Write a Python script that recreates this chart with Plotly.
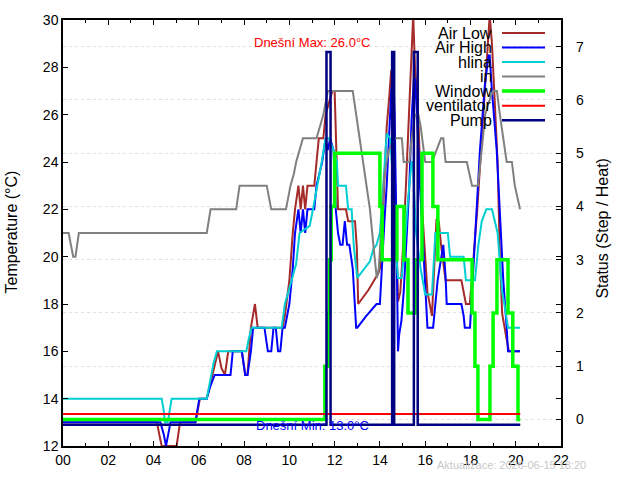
import plotly.graph_objects as go

# ---------------- data (hours, values) ----------------
air_low_t = [0, 4.15, 4.25, 4.36, 5.02, 5.1, 5.17, 5.85, 5.95, 6.05, 6.35, 6.6, 6.85, 7.0, 7.15, 7.3, 7.45, 7.9, 8.05, 8.15, 8.3, 8.48, 8.6,
             9.7, 9.8, 10.0, 10.15, 10.25, 10.4, 10.5, 10.6, 10.7, 10.8, 11.1, 11.2, 11.3, 11.5, 11.6, 11.75, 11.9, 12.0, 12.1, 12.15,
             12.5, 12.6, 12.9, 12.98, 13.04, 13.5, 13.93, 14.0, 14.1, 14.2, 14.3, 14.4, 14.5, 14.6, 14.7, 14.8, 14.9, 15.0, 15.15, 15.3,
             15.4, 15.47, 15.55, 15.7, 15.8, 15.95, 16.1, 16.3, 16.4, 16.5, 16.6, 16.7, 16.9, 17.6, 17.8, 17.97, 18.1, 18.3, 18.5, 18.7,
             18.85, 18.95, 19.1, 19.2, 19.3, 19.4, 19.6, 19.7, 20.19]
air_low_v = [13, 13, 12.5, 12, 12, 12.5, 13, 13, 13.5, 14, 14, 15, 16, 15.3, 15, 16, 16, 16, 15, 15, 17, 18, 17,
             17, 17.5, 19, 21, 22, 23, 22, 23, 22, 23, 23, 24, 25, 25, 26, 26.5, 27, 27, 23.5, 22,
             22, 21.5, 21.5, 20.4, 18, 18.6, 19.3, 19.5, 21, 23, 25.5, 26.6, 27.9, 26, 22, 18.1, 18.5, 20, 23, 26.5,
             29.3, 30.2, 28, 25.8, 23, 20.5, 18.5, 17.5, 19.5, 21.6, 21.5, 20.5, 19, 19, 18, 18, 19.5, 22, 25, 28,
             30.2, 29, 26, 24, 20, 17.6, 16.5, 16, 16]

air_high_t = [0, 4.3, 4.45, 4.55, 4.65, 4.75, 5.85, 5.95, 6.02, 6.35, 6.5, 6.7, 7.4, 7.5, 7.9, 8.05, 8.15, 8.3, 8.4, 8.9, 9.05, 9.2,
              9.3, 9.4, 9.5, 9.6, 9.7, 9.8, 10.0, 10.15, 10.25, 10.4, 10.5, 10.6, 10.7, 10.8, 11.1, 11.2, 11.45, 11.6, 11.7, 11.8,
              11.95, 12.05, 12.15, 12.25, 12.35, 12.45, 12.55, 12.65, 12.8, 12.95, 13.0, 13.4, 13.85, 14.0, 14.05, 14.12, 14.2, 14.3,
              14.4, 14.5, 14.59, 14.65, 14.7, 14.74, 14.78, 14.8, 14.85, 14.95, 15.05, 15.15, 15.3, 15.4, 15.5, 15.55, 15.65, 15.77,
              15.9, 16.05, 16.1, 16.35, 16.45, 16.55, 16.8, 16.85, 16.9, 16.95, 17.6, 17.7, 17.75, 17.98, 18.1, 18.25, 18.42, 18.64,
              18.8, 18.85, 18.95, 19.16, 19.3, 19.45, 19.6, 19.66, 20.19]
air_high_v = [13, 13, 12.5, 12, 12.5, 13, 13, 13.5, 14, 14, 14.5, 15, 15, 16, 16, 15, 15, 16, 17, 17, 16, 16,
              17, 17, 16, 16, 17, 17, 18, 19.5, 21, 22, 21, 22, 21, 22, 22, 23, 24, 25, 24.5, 25,
              24.5, 22, 21, 20.5, 20.5, 21.5, 20.5, 20.5, 19.5, 17, 17, 17.5, 18, 18, 19, 20, 21.5, 23,
              25, 27, 27.8, 26, 23, 20.5, 17.5, 16, 16.7, 17.3, 18.5, 20.5, 23, 25.8, 27.5, 27.5, 25.8, 23,
              20.5, 18, 17, 17, 18, 19, 20.5, 20, 19.2, 18, 18, 17.5, 17, 17, 19, 21.5, 24.5, 27.3,
              28.5, 28.5, 27, 24.5, 21.7, 19, 17, 16, 16]

hlina_t = [0, 4.36, 4.45, 4.5, 4.63, 4.7, 4.8, 6.35, 6.45, 6.55, 6.65, 6.8, 8.1, 8.2, 8.33, 9.66, 9.8, 10.1, 10.3, 10.45, 10.9,
           11.04, 11.25, 11.43, 11.6, 11.75, 11.95, 12.1, 12.15, 12.5, 12.6, 12.75, 12.85, 13.0, 13.56, 13.7, 13.85, 14.0, 14.15,
           14.3, 14.45, 14.6, 14.7, 14.8, 14.96, 15.1, 15.25, 15.4, 15.45, 15.6, 15.8, 16.0, 16.3, 16.45, 16.7, 17.0, 17.1, 17.7,
           17.8, 18.2, 18.35, 18.5, 18.7, 18.95, 19.2, 19.4, 19.5, 19.66, 20.19]
hlina_v = [14, 14, 13.5, 13, 13, 13.5, 14, 14, 14.5, 15, 15.5, 16, 16, 16.5, 17, 17, 18, 19, 19.7, 21, 21.3,
           22, 23, 24, 25, 25, 24.5, 24, 23, 23, 22, 22, 20.4, 19.1, 19.8, 20.3, 20.5, 21, 23,
           25.2, 25, 23, 20.3, 19.1, 19.1, 20.5, 22.5, 24, 24, 21, 19.5, 18.4, 18.4, 21, 21, 21, 20, 20,
           19, 19, 20.5, 21.5, 22, 22, 21, 18.5, 18, 17, 17]

inside_t = [0, 0.25, 0.35, 0.45, 0.55, 0.62, 0.7, 6.35, 6.45, 6.52, 7.65, 7.72, 7.8, 9.0, 9.1, 9.2, 9.85, 9.95, 10.05, 10.2, 10.3,
            10.6, 11.2, 11.5, 11.7, 12.8, 12.95, 13.1, 13.25, 13.4, 13.56, 13.7, 13.86, 13.95, 14.05, 14.2, 14.4, 14.66, 14.97,
            15.05, 15.3, 15.4, 15.55, 15.7, 15.8, 15.95, 16.0, 16.3, 16.5, 16.7, 16.8, 16.9, 17.84, 17.95, 18.07, 18.33, 18.45,
            18.55, 18.65, 18.8, 18.99, 19.17, 19.3, 19.45, 19.6, 19.83, 19.96, 20.19]
inside_v = [21, 21, 20.5, 20, 20, 20.5, 21, 21, 21.5, 22, 22, 22.5, 23, 23, 22.5, 22, 22, 22.5, 23, 23.5, 24,
            25, 25, 26, 27, 27, 26, 25, 24, 23, 22, 20.6, 19.1, 19.5, 21, 23.5, 24.5, 25, 25,
            24, 24, 25, 26, 26, 25.5, 24.5, 24, 24, 24.5, 25, 25, 24, 24, 23.5, 23, 23, 24,
            25, 26, 26.5, 27, 27, 26, 25, 24, 24, 23, 22]

window_t = [0, 11.57, 11.7, 11.78, 11.85, 12.0, 14.0, 14.1, 14.75, 15.06, 15.24, 15.55, 15.86, 16.34, 16.56, 18.07, 18.2, 18.33,
            18.86, 19.0, 19.17, 19.66, 19.87, 20.1, 20.2]
window_v = [0, 1, 2, 3, 4, 5, 4, 3, 4, 3, 2, 3, 5, 4, 3, 2, 1, 0, 1, 2, 3, 2, 1, 0, 0]

vent_t = [0, 20.2]
vent_v = [0.1, 0.1]

pump_t = [0, 11.64, 11.82, 14.54, 14.63, 15.5, 15.67, 20.2]
pump_v = [-0.1, 6.9, -0.1, 6.9, -0.1, 6.9, -0.1, -0.1]

x_ticks = [0, 2, 4, 6, 8, 10, 12, 14, 16, 18, 20, 22]
x_labels = ["00", "02", "04", "06", "08", "10", "12", "14", "16", "18", "20", "22"]
y_ticks = [12, 14, 16, 18, 20, 22, 24, 26, 28, 30]
y2_ticks = [0, 1, 2, 3, 4, 5, 6, 7]

series = [
    ("Air Low", air_low_t, air_low_v, "#a52a2a", 2, "y", "linear"),
    ("Air High", air_high_t, air_high_v, "#0000ff", 2, "y", "linear"),
    ("hlina", hlina_t, hlina_v, "#00ced1", 2, "y", "linear"),
    ("in", inside_t, inside_v, "#808080", 2, "y", "linear"),
    ("Window", window_t, window_v, "#00ff00", 3.5, "y2", "hv"),
    ("ventilator", vent_t, vent_v, "#ff0000", 2, "y2", "linear"),
    ("Pump", pump_t, pump_v, "#000080", 2.5, "y2", "hv"),
]

FONT = "Liberation Sans, Arial, sans-serif"
W, H = 640, 480
L, R, T, B = 63, 561, 14, 449

fig = go.Figure()
for name, t, v, col, w, ax, shape in series:
    fig.add_trace(go.Scatter(x=t, y=v, mode="lines", name=name, yaxis=ax,
                             line=dict(color=col, width=w, shape=shape), showlegend=False))

def px(x):
    return (x - L) / (R - L)

def py(y):
    return (B - y) / (B - T)

# manual gnuplot-style legend (text right, sample line on the right)
leg_y0, leg_dy = 27.3, 14.83
shapes = []
annotations = []
for i, (name, t, v, col, w, ax, shape) in enumerate(series):
    yy = leg_y0 + i * leg_dy
    annotations.append(dict(x=px(494), y=py(yy), xref="paper", yref="paper", text=name, showarrow=False,
                            xanchor="right", yanchor="middle", font=dict(family=FONT, size=16, color="black")))
    shapes.append(dict(type="line", xref="paper", yref="paper", x0=px(502), x1=px(545), y0=py(yy), y1=py(yy),
                       line=dict(color=col, width=w)))

annotations += [
    dict(x=11.0, y=29.05, xref="x", yref="y", text="Dnešní Max: 26.0°C", showarrow=False,
         xanchor="center", font=dict(family=FONT, size=13, color="#ff0000")),
    dict(x=11.0, y=12.88, xref="x", yref="y", text="Dnešní Min: 13.0°C", showarrow=False,
         xanchor="center", font=dict(family=FONT, size=13, color="#0000ff")),
    dict(x=px(588), y=py(468), xref="paper", yref="paper", text="Aktualizace: 2026-06-15 18:20", showarrow=False,
         xanchor="right", yanchor="middle", font=dict(family=FONT, size=11, color="#c8c8c8")),
    dict(x=px(12), y=py(231), xref="paper", yref="paper", text="Temperature (°C)", showarrow=False,
         xanchor="center", yanchor="middle", textangle=-90, font=dict(family=FONT, size=16, color="black")),
    dict(x=px(603), y=py(227), xref="paper", yref="paper", text="Status (Step / Heat)", showarrow=False,
         xanchor="center", yanchor="middle", textangle=-90, font=dict(family=FONT, size=16, color="black")),
]

fig.update_layout(
    width=W, height=H,
    margin=dict(l=L, r=W - R, t=T, b=H - B, pad=0),
    paper_bgcolor="white", plot_bgcolor="white",
    font=dict(family=FONT, size=14, color="black"),
    showlegend=False,
    shapes=shapes, annotations=annotations,
    xaxis=dict(range=[0, 22], tickvals=x_ticks, ticktext=x_labels, ticks="inside", ticklen=5, tickwidth=1,
               tickcolor="black", showline=True, linecolor="black", linewidth=1.5, mirror="ticks",
               showgrid=False, zeroline=False, tickfont=dict(size=14),
               minor=dict(dtick=1, tick0=0, ticks="inside", ticklen=3, tickcolor="black", showgrid=False)),
    yaxis=dict(range=[12, 30], tickvals=y_ticks, ticks="inside", ticklen=5, tickcolor="black", showline=True,
               linecolor="black", linewidth=1.5, mirror="ticks", showgrid=False, zeroline=False,
               tickfont=dict(size=14)),
    yaxis2=dict(range=[-0.5, 7.5], tickvals=y2_ticks, overlaying="y", side="right", ticks="inside", ticklen=5,
                tickcolor="black", showline=False, showgrid=True, gridcolor="#e0e0e0", gridwidth=1,
                griddash="3px,3px", zeroline=False, tickfont=dict(size=14), ticklabelstandoff=14),
)

fig.write_html("out.html")
